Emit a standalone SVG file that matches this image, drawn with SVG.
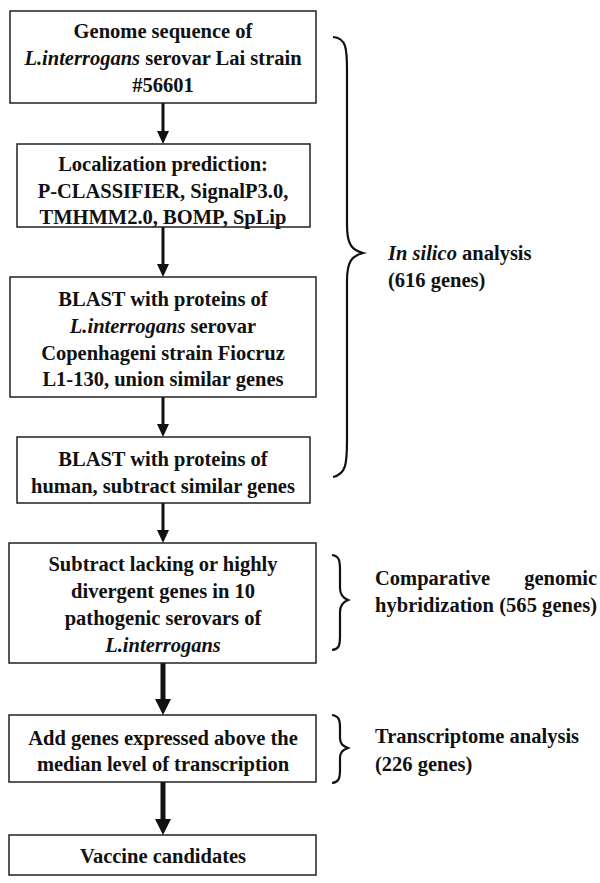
<svg xmlns="http://www.w3.org/2000/svg" width="600" height="883" viewBox="0 0 600 883">
<style>
.box{fill:#fff;stroke:#222;stroke-width:1.5}
text{font-family:'Liberation Serif','Times New Roman',serif;font-weight:bold;font-size:20.5px;fill:#111}
.t{text-anchor:middle}
.i{font-style:italic}
.c{stroke:#111;fill:none}
.br{stroke:#111;stroke-width:2.2;fill:none}
</style>
<rect width="600" height="883" fill="#fff"/>
<g id="connectors">
<line class="c" x1="163" y1="103" x2="163" y2="132" stroke-width="3"/>
<polygon points="157,131 169,131 163,144" fill="#111"/>
<line class="c" x1="163" y1="227" x2="163" y2="265" stroke-width="3"/>
<polygon points="157,264 169,264 163,277" fill="#111"/>
<line class="c" x1="163" y1="397" x2="163" y2="425" stroke-width="3"/>
<polygon points="157,424 169,424 163,437" fill="#111"/>
<line class="c" x1="163" y1="503" x2="163" y2="531" stroke-width="3"/>
<polygon points="157,530 169,530 163,543" fill="#111"/>
<line class="c" x1="163" y1="663" x2="163" y2="700" stroke-width="5"/>
<polygon points="155,699 171,699 163,715" fill="#111"/>
<line class="c" x1="163" y1="782" x2="163" y2="820" stroke-width="5"/>
<polygon points="155,819 171,819 163,835" fill="#111"/>
</g>
<g id="n1">
<rect class="box" x="10" y="11" width="306" height="92"/>
<text class="t" x="163" y="38">Genome sequence of</text>
<text class="t" x="163" y="65"><tspan class="i">L.interrogans</tspan> serovar Lai strain</text>
<text class="t" x="163" y="92">#56601</text>
</g>
<g id="n2">
<rect class="box" x="17" y="144" width="293" height="83"/>
<text class="t" x="163" y="171">Localization prediction:</text>
<text class="t" x="163" y="198">P-CLASSIFIER, SignalP3.0,</text>
<text class="t" x="163" y="224">TMHMM2.0, BOMP, SpLip</text>
</g>
<g id="n3">
<rect class="box" x="10" y="277" width="306" height="120"/>
<text class="t" x="163" y="306">BLAST with proteins of</text>
<text class="t" x="163" y="333"><tspan class="i">L.interrogans</tspan> serovar</text>
<text class="t" x="163" y="360">Copenhageni strain Fiocruz</text>
<text class="t" x="163" y="386">L1-130, union similar genes</text>
</g>
<g id="n4">
<rect class="box" x="17" y="437" width="293" height="66"/>
<text class="t" x="163" y="466">BLAST with proteins of</text>
<text class="t" x="163" y="493">human, subtract similar genes</text>
</g>
<g id="n5">
<rect class="box" x="9" y="543" width="307" height="120"/>
<text class="t" x="163" y="571">Subtract lacking or highly</text>
<text class="t" x="163" y="598">divergent genes in 10</text>
<text class="t" x="163" y="625">pathogenic serovars of</text>
<text class="t i" x="163" y="652">L.interrogans</text>
</g>
<g id="n6">
<rect class="box" x="9" y="715" width="307" height="67"/>
<text class="t" x="163" y="745">Add genes expressed above the</text>
<text class="t" x="163" y="771">median level of transcription</text>
</g>
<g id="n7">
<rect class="box" x="9" y="835" width="307" height="40"/>
<text class="t" x="163" y="863">Vaccine candidates</text>
</g>
<g id="brace1">
<path class="br" d="M333,37 C346,38 347,48 347,70 L347,225 C347,245 352,250 363,253 C352,256 347,261 347,281 L347,440 C347,464 346,474 333,477"/>
<text x="388" y="260"><tspan class="i">In silico</tspan> analysis</text>
<text x="388" y="287">(616 genes)</text>
</g>
<g id="brace2">
<path class="br" d="M332,555 C339,556 340,560 340,570 L340,588 C340,595 343,598 348,600 C343,602 340,605 340,612 L340,636 C340,646 339,649 332,650"/>
<text x="375" y="585">Comparative</text>
<text x="597" y="585" text-anchor="end">genomic</text>
<text x="375" y="612" textLength="222" lengthAdjust="spacing">hybridization (565 genes)</text>
</g>
<g id="brace3">
<path class="br" d="M332,715 C339,716 340,720 340,728 L340,738 C340,744 343,746 348,748 C343,750 340,752 340,758 L340,770 C340,778 339,782 332,783"/>
<text x="375" y="743">Transcriptome analysis</text>
<text x="375" y="771">(226 genes)</text>
</g>
</svg>
